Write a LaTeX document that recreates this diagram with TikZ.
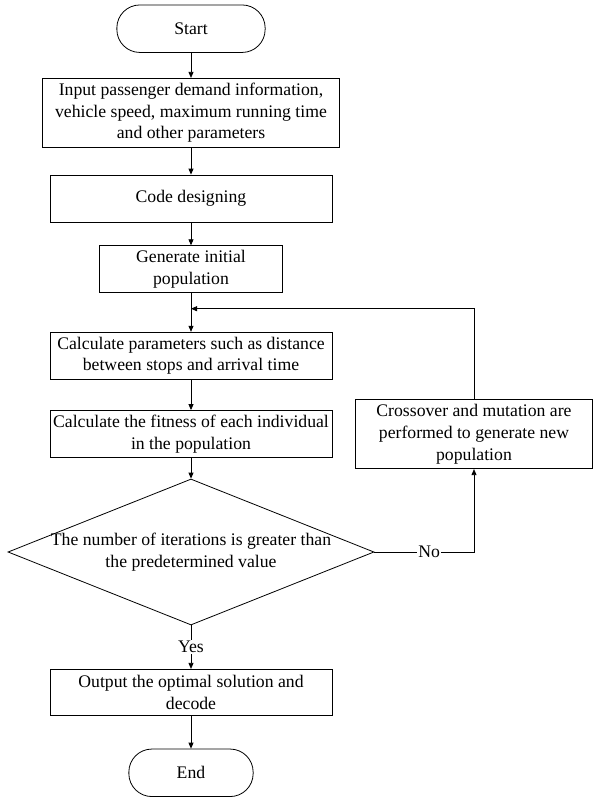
\documentclass[tikz,border=0pt]{standalone}
\usepackage{fontspec}
\setmainfont{Liberation Serif}
\usetikzlibrary{arrows.meta,shapes.geometric}

\begin{document}
\begin{tikzpicture}[x=1pt,y=-1pt,
  every node/.style={font=\fontsize{17.7}{21.7}\selectfont, align=center, inner sep=0pt},
  box/.style={draw, line width=0.8pt, minimum width=282pt, minimum height=47pt},
  term/.style={draw, line width=0.8pt, rounded corners=23pt, minimum height=47.5pt},
  decision/.style={draw, diamond, line width=0.8pt, minimum width=366pt, minimum height=146pt},
  arr/.style={line width=0.8pt, -{Triangle[length=6pt,width=5pt]}},
  lbl/.style={fill=white, inner sep=1pt}]
  \useasboundingbox (0,0) rectangle (593,798);

  % Nodes
  \node[term, minimum width=148.3pt] (start) at (191,28.7) {Start};
  \node[box, minimum width=297pt, minimum height=69pt] (input) at (191,112.8)
    {Input passenger demand information,\\vehicle speed, maximum running time\\and other parameters};
  \node[box] (code) at (191,198.5) {Code designing};
  \node[box, minimum width=183pt, minimum height=46.6pt] (init) at (191,269) {Generate initial\\population};
  \node[box] (calc) at (191,355.7) {Calculate parameters such as distance\\between stops and arrival time};
  \node[box] (fit) at (191,434) {Calculate the fitness of each individual\\in the population};
  \node[box, minimum width=236.6pt, minimum height=69pt] (cross) at (474,434.2)
    {Crossover and mutation are\\performed to generate new\\population};
  \node[decision] (dec) at (191,552) {};
  \node (dectxt) at (dec.center) {The number of iterations is greater than\\the predetermined value};
  \node[box, minimum height=46pt] (out) at (191,692.3) {Output the optimal solution and\\decode};
  \node[term, minimum width=124.3pt] (stop) at (191,772.8) {End};

  \coordinate (join) at (191,308.7);
  \coordinate (turn) at (dec.east -| cross.south);

  % Edges
  \foreach \a/\b in {start/input, input/code, code/init, init/calc, calc/fit, fit/dec, out/stop}{
    \draw[arr] (\a.south) -- (\b.north);
  }
  \draw[arr] (dec.south) -- node[lbl] (yes) {Yes} (out.north);
  \draw[arr] (dec.east) -- node[lbl, pos=0.55] (no) {No} (turn) -- (cross.south);
  \draw[arr] (cross.north) |- (join);

\end{tikzpicture}
\end{document}
